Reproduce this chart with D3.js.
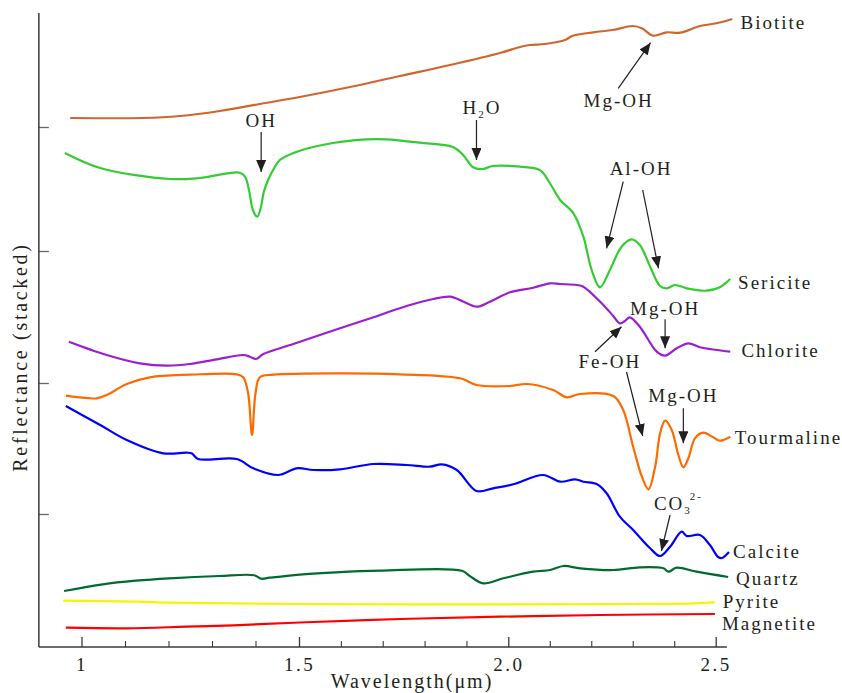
<!DOCTYPE html>
<html><head><meta charset="utf-8">
<script src="https://cdn.jsdelivr.net/npm/d3@7"></script>
<style>
body{margin:0;background:#fff}
svg text{font-family:"Liberation Serif","Times New Roman",serif;fill:#231f20}
</style></head><body>
<svg id="chart" width="842" height="693"></svg>
<script>
// Stacked reflectance spectra (offset units), wavelength in micrometres
const biotiteWl = [0.974,1.141,1.226,1.318,1.410,1.502,1.622,1.741,1.861,1.980,2.028,2.052,2.088,2.137,2.154,2.205,2.252,2.300,2.322,2.349,2.382,2.414,2.462,2.502,2.540];
const biotiteR  = [5.29,5.29,5.31,5.36,5.43,5.50,5.60,5.71,5.82,5.94,6.00,6.02,6.03,6.07,6.11,6.147,6.17,6.21,6.187,6.113,6.147,6.143,6.21,6.237,6.28];

const sericiteWl = [0.962,1.043,1.203,1.272,1.364,1.376,1.385,1.394,1.404,1.412,1.419,1.429,1.443,1.456,1.495,1.581,1.662,1.709,1.789,1.869,1.892,1.916,1.939,1.963,2.028,2.076,2.100,2.125,2.157,2.181,2.201,2.221,2.245,2.273,2.297,2.317,2.342,2.366,2.382,2.402,2.430,2.478,2.510,2.535];
const sericiteR  = [4.94,4.79,4.68,4.69,4.743,4.703,4.57,4.37,4.303,4.39,4.55,4.67,4.79,4.87,4.953,5.04,5.077,5.077,5.043,4.997,4.92,4.797,4.78,4.81,4.803,4.77,4.64,4.47,4.337,4.103,3.77,3.597,3.77,4.003,4.077,4.02,3.803,3.61,3.587,3.62,3.587,3.563,3.597,3.68];

const chloriteWl = [0.971,1.058,1.134,1.196,1.249,1.311,1.372,1.387,1.401,1.418,1.487,1.598,1.678,1.757,1.821,1.861,1.893,1.924,1.956,2.004,2.060,2.101,2.125,2.165,2.181,2.229,2.253,2.269,2.281,2.293,2.317,2.358,2.378,2.406,2.434,2.462,2.502,2.535];
const chloriteR  = [3.053,2.92,2.837,2.813,2.83,2.877,2.92,2.903,2.88,2.93,3.03,3.187,3.297,3.41,3.48,3.503,3.453,3.403,3.453,3.547,3.593,3.637,3.63,3.62,3.603,3.42,3.31,3.237,3.26,3.297,3.203,2.953,2.913,2.987,3.037,2.997,2.97,2.953];

const tourmalineWl = [0.964,1.035,1.058,1.104,1.157,1.249,1.357,1.372,1.383,1.392,1.400,1.410,1.441,1.598,1.741,1.885,1.924,2.004,2.044,2.108,2.141,2.173,2.253,2.277,2.301,2.322,2.338,2.354,2.366,2.378,2.394,2.410,2.422,2.434,2.450,2.470,2.494,2.510,2.535];
const tourmalineR  = [2.513,2.487,2.52,2.63,2.697,2.723,2.727,2.697,2.537,2.12,2.537,2.697,2.723,2.737,2.727,2.687,2.62,2.61,2.63,2.57,2.497,2.53,2.51,2.37,2.003,1.703,1.577,1.803,2.137,2.263,2.17,1.92,1.797,1.887,2.087,2.143,2.097,2.063,2.103];

const calciteWl = [0.964,1.043,1.104,1.188,1.242,1.254,1.268,1.357,1.395,1.452,1.495,1.534,1.598,1.678,1.757,1.813,1.841,1.877,1.924,1.964,2.012,2.084,2.125,2.161,2.181,2.213,2.237,2.269,2.301,2.342,2.366,2.390,2.418,2.430,2.462,2.486,2.506,2.515,2.532];
const calciteR  = [2.41,2.22,2.07,1.937,1.943,1.935,1.88,1.88,1.787,1.72,1.787,1.77,1.777,1.83,1.82,1.803,1.827,1.77,1.56,1.587,1.627,1.72,1.653,1.677,1.653,1.63,1.537,1.303,1.17,0.987,0.91,1.003,1.153,1.11,1.12,1.02,0.90,0.89,0.95];

const quartzWl = [0.960,1.049,1.125,1.202,1.317,1.397,1.413,1.432,1.509,1.588,1.694,1.889,1.908,1.940,1.988,2.060,2.101,2.133,2.173,2.253,2.317,2.374,2.386,2.406,2.454,2.530];
const quartzR  = [0.56,0.627,0.663,0.687,0.71,0.717,0.683,0.693,0.727,0.747,0.763,0.763,0.71,0.637,0.687,0.753,0.77,0.81,0.787,0.77,0.797,0.787,0.753,0.793,0.753,0.70];

const pyriteWl = [0.958,1.125,1.202,1.355,1.502,1.980,2.301,2.446,2.498];
const pyriteR  = [0.463,0.453,0.443,0.437,0.43,0.427,0.43,0.437,0.447];

const magnetiteWl = [0.964,1.102,1.240,1.349,1.502,1.741,1.980,2.221,2.498];
const magnetiteR  = [0.193,0.187,0.203,0.217,0.245,0.28,0.303,0.32,0.33];

const seriesNames = ["Biotite","Sericite","Chlorite","Tourmaline","Calcite","Quartz","Pyrite","Magnetite"];
const seriesWl = [biotiteWl,sericiteWl,chloriteWl,tourmalineWl,calciteWl,quartzWl,pyriteWl,magnetiteWl];
const seriesR  = [biotiteR,sericiteR,chloriteR,tourmalineR,calciteR,quartzR,pyriteR,magnetiteR];

const xMajorTicks = [1, 1.5, 2.0, 2.5];
const xMajorLabels = ["1", "1.5", "2.0", "2.5"];
const xMinorTicks = [1.1,1.2,1.3,1.4,1.6,1.7,1.8,1.9,2.1,2.2,2.3,2.4];
const yTicks = [1.33, 2.64, 3.96, 5.20];

// ---- styles & layout ----
const colors = ["#d2652d","#33cc33","#9b1fd0","#ff6a00","#0000ff","#006b2e","#f5f500","#ff0000"];
// series name positions (wavelength, offset reflectance)
const nameAnchors = [[2.560,6.177],[2.554,3.577],[2.562,2.903],[2.546,2.03],[2.542,0.887],[2.549,0.62],[2.517,0.387],[2.515,0.17]];

const svg = d3.select("#chart");
const x = d3.scaleLinear().domain([1, 1.5, 2, 2.5]).range([81.5, 299, 508.3, 715.7]);
const y = d3.scaleLinear().domain([0, 6.34]).range([647, 13]);
const axisColor = "#3a3a3a";

// axes
const gx = svg.append("g").attr("transform", `translate(0,${y(0)})`);
gx.call(d3.axisBottom(x).tickValues(xMajorTicks).tickSizeInner(-10).tickSizeOuter(0).tickPadding(11)
   .tickFormat((d,i) => xMajorLabels[i]));
gx.select(".domain").remove();
gx.selectAll(".tick line").attr("stroke", axisColor).attr("stroke-width", 1.3);
gx.selectAll(".tick text").attr("font-size", 19).attr("letter-spacing", 2.5).attr("fill","#231f20")
  .style("font-family","'Liberation Serif','Times New Roman',serif").attr("dy","0.71em");

const gxm = svg.append("g").attr("transform", `translate(0,${y(0)})`);
gxm.call(d3.axisBottom(x).tickValues(xMinorTicks).tickSizeInner(-6).tickSizeOuter(0).tickFormat(""));
gxm.select(".domain").remove();
gxm.selectAll(".tick line").attr("stroke", axisColor).attr("stroke-width", 1.1);

const gy = svg.append("g").attr("transform", `translate(${x(0.902)},0)`);
gy.call(d3.axisLeft(y).tickValues(yTicks).tickSizeInner(-10).tickSizeOuter(0).tickFormat(""));
gy.select(".domain").remove();
gy.selectAll(".tick line").attr("stroke", "#666").attr("stroke-width", 1.3);

svg.append("line").attr("x1", x(0.902)).attr("x2", x(2.527)).attr("y1", y(0)).attr("y2", y(0))
  .attr("stroke", axisColor).attr("stroke-width", 1.5);
svg.append("line").attr("x1", x(0.902)).attr("x2", x(0.902)).attr("y1", y(0)).attr("y2", y(6.34))
  .attr("stroke", axisColor).attr("stroke-width", 1.5);

svg.append("text").attr("x", x(1.77)).attr("y", 688).attr("text-anchor","middle")
  .attr("font-size", 20).attr("letter-spacing", 2).text("Wavelength(μm)");
svg.append("text").attr("transform", "translate(27,357) rotate(-90)").attr("text-anchor","middle")
  .attr("font-size", 20).attr("letter-spacing", 2.7).text("Reflectance (stacked)");

// spectra
const line = d3.line().x(d => x(d[0])).y(d => y(d[1])).curve(d3.curveCatmullRom.alpha(0.5));
seriesNames.forEach((name, i) => {
  const pts = seriesWl[i].map((w, j) => [w, seriesR[i][j]]);
  svg.append("path").datum(pts).attr("d", line).attr("fill","none")
    .attr("stroke", colors[i]).attr("stroke-width", 2.2).attr("stroke-linejoin","round");
  svg.append("text").attr("x", x(nameAnchors[i][0])).attr("y", y(nameAnchors[i][1]))
    .attr("font-size", 19).attr("letter-spacing", 2).text(name);
});

// absorption feature annotations
svg.append("defs").append("marker").attr("id","ah").attr("viewBox","0 0 12 10")
  .attr("refX",12).attr("refY",5).attr("markerWidth",12).attr("markerHeight",10)
  .attr("markerUnits","userSpaceOnUse").attr("orient","auto")
  .append("path").attr("d","M0,0L12,5L0,10Z").attr("fill","#231f20");

const annotations = [
  {parts:[["OH"]], at:[1.413,5.20], anchor:"middle", arrows:[[1.413,5.15,1.413,4.75]]},
  {parts:[["H"],["2","sub"],["O"]], at:[1.937,5.33], anchor:"middle", arrows:[[1.924,5.27,1.924,4.87]]},
  {parts:[["Mg-OH"]], at:[2.266,5.397], anchor:"middle", arrows:[[2.265,5.587,2.343,6.043]]},
  {parts:[["Al-OH"]], at:[2.320,4.72], anchor:"middle", arrows:[[2.277,4.653,2.237,3.987],[2.324,4.57,2.362,3.787]]},
  {parts:[["Mg-OH"]], at:[2.378,3.32], anchor:"middle", arrows:[[2.378,3.277,2.378,2.987]]},
  {parts:[["Fe-OH"]], at:[2.245,2.787], anchor:"middle", arrows:[[2.209,2.953,2.273,3.203],[2.285,2.75,2.324,2.11]]},
  {parts:[["Mg-OH"]], at:[2.422,2.453], anchor:"middle", arrows:[[2.422,2.387,2.422,2.037]]},
  {parts:[["CO"],["3","sub"],["2-","sup"]], at:[2.351,1.37], anchor:"start", arrows:[[2.390,1.32,2.369,0.96]]}
];
annotations.forEach(a => {
  const t = svg.append("text").attr("x", x(a.at[0])).attr("y", y(a.at[1]))
    .attr("text-anchor", a.anchor).attr("font-size", 19).attr("letter-spacing", 2);
  a.parts.forEach((p, k) => {
    const ts = t.append("tspan").text(p[0]);
    if (p[1] === "sub") ts.attr("font-size", 11).attr("dy", 4);
    if (p[1] === "sup") ts.attr("font-size", 11).attr("dy", -14).attr("dx", -2);
    if (p[1] === undefined && k > 0 && a.parts[k - 1][1] === "sub") ts.attr("dy", -4);
  });
  a.arrows.forEach(ar => {
    svg.append("line").attr("x1", x(ar[0])).attr("y1", y(ar[1])).attr("x2", x(ar[2])).attr("y2", y(ar[3]))
      .attr("stroke","#231f20").attr("stroke-width",1.2).attr("marker-end","url(#ah)");
  });
});
</script>
</body></html>
